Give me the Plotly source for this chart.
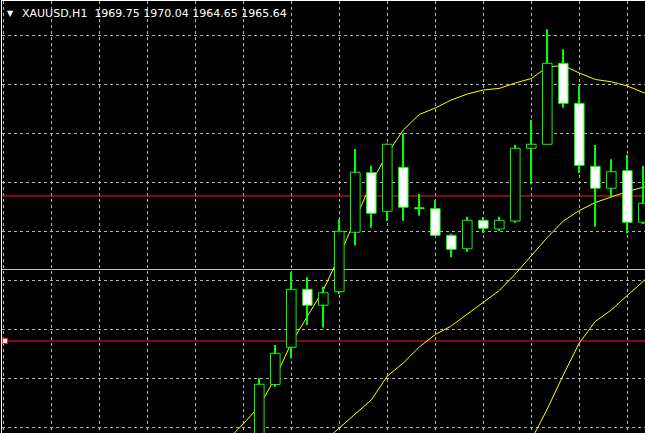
import plotly.graph_objects as go

# MT4 style XAUUSD H1 chart
symbol = "XAUUSD,H1"
last_ohlc = ["1969.75", "1970.04", "1964.65", "1965.64"]

bar_index = list(range(25))
opens = [1947.65, 1954.34, 1958.13, 1964.05, 1962.42, 1963.81, 1969.87, 1975.95, 1972.01, 1976.50,
         1972.37, 1972.28, 1969.56, 1968.19, 1971.09, 1970.20, 1971.02, 1978.44, 1978.85, 1987.11,
         1983.03, 1976.60, 1974.36, 1976.15, 1970.89]
highs = [1954.97, 1958.37, 1965.79, 1965.28, 1964.32, 1971.19, 1978.37, 1976.66, 1978.93, 1979.97,
         1973.78, 1973.13, 1969.69, 1971.46, 1971.43, 1971.46, 1978.78, 1981.33, 1990.58, 1988.54,
         1984.80, 1978.78, 1977.32, 1977.76, 1976.63]
lows = [1947.14, 1954.11, 1956.99, 1960.41, 1960.15, 1963.57, 1968.52, 1970.34, 1971.05, 1971.05,
        1971.56, 1969.49, 1967.32, 1967.89, 1969.80, 1970.00, 1970.85, 1974.77, 1978.83, 1982.58,
        1975.95, 1970.44, 1973.50, 1969.77, 1970.71]
closes = [1954.36, 1957.52, 1964.05, 1962.42, 1963.70, 1969.97, 1975.99, 1971.81, 1978.85, 1972.42,
          1972.27, 1969.56, 1968.13, 1971.09, 1970.28, 1971.09, 1978.44, 1978.85, 1987.11, 1983.03,
          1976.70, 1974.36, 1976.05, 1970.89, 1972.83]

ma_fast_index = list(range(-2, 26))
ma_fast = [1948.67, 1950.31, 1952.11, 1955.02, 1958.57, 1961.33, 1963.98, 1967.45, 1971.22, 1974.90,
           1977.89, 1980.31, 1981.89, 1982.55, 1983.37, 1983.98, 1984.39, 1984.55, 1985.10, 1985.56,
           1986.73, 1986.89, 1986.12, 1985.46, 1985.23, 1984.80, 1984.13, 1983.47]
ma_mid_index = list(range(4, 26))
ma_mid = [1948.47, 1949.90, 1951.33, 1952.76, 1955.20, 1956.53, 1958.16, 1959.44, 1960.31, 1961.53,
          1962.79, 1963.93, 1965.61, 1967.50, 1969.34, 1971.02, 1972.09, 1972.91, 1973.44, 1974.03,
          1974.47, 1974.90]
ma_slow_index = list(range(16, 26))
ma_slow = [1945.51, 1948.67, 1951.84, 1955.31, 1958.57, 1960.77, 1961.94, 1963.42, 1964.90, 1966.33]

red_levels = [1973.57, 1958.78]
bid_level = 1966.07

# view window (16 px per bar, 9.8 px per dollar)
x_lo = -(259.3 - 2) / 16
x_hi = x_lo + 643 / 16
y_hi = 1990 + 34 / 9.8
y_lo = 1990 - 398 / 9.8

fig = go.Figure()

# horizontal levels, drawn as full-width lines
span = [x_lo - 1, x_hi + 1]
for lvl in red_levels:
    fig.add_trace(go.Scatter(x=span, y=[lvl, lvl], mode="lines", line=dict(color="#ff1a1a", width=1),
                             hoverinfo="skip", showlegend=False))
fig.add_trace(go.Scatter(x=span, y=[bid_level, bid_level], mode="lines",
                         line=dict(color="#c0c0c8", width=1), hoverinfo="skip", showlegend=False))

for xs, ys in [(ma_fast_index, ma_fast), (ma_mid_index, ma_mid), (ma_slow_index, ma_slow)]:
    fig.add_trace(go.Scatter(x=xs, y=ys, mode="lines", line=dict(color="#ffff00", width=1),
                             hoverinfo="skip", showlegend=False))

# selected-object handle on the lower red line
fig.add_trace(go.Scatter(x=[x_lo + 3 / 16], y=[red_levels[1]], mode="markers",
                         marker=dict(symbol="square", size=5, color="white",
                                     line=dict(color="#ff1a1a", width=1)),
                         hoverinfo="skip", showlegend=False))

# wicks, then bodies, on an overlay axis so candles sit above the MAs
fig.add_trace(go.Bar(x=bar_index, base=lows, y=[h - l for h, l in zip(highs, lows)],
                     width=1 / 16, marker=dict(color="#00ff00", line=dict(width=0)),
                     xaxis="x2", yaxis="y2", hoverinfo="skip", showlegend=False))
fig.add_trace(go.Bar(x=bar_index, base=[min(o, c) for o, c in zip(opens, closes)],
                     y=[max(abs(c - o), 0.1) for o, c in zip(opens, closes)],
                     width=0.6,
                     marker=dict(color=["black" if c > o else "white" for o, c in zip(opens, closes)],
                                 line=dict(color="#00ff00", width=1)),
                     xaxis="x2", yaxis="y2", hoverinfo="skip", showlegend=False))

grid = dict(showgrid=True, gridcolor="#b4b4b4", gridwidth=1, griddash="3px,3px",
            zeroline=False, showticklabels=False, ticks="")
fig.update_layout(
    width=645, height=433,
    margin=dict(l=2, r=0, t=1, b=0),
    paper_bgcolor="black", plot_bgcolor="black",
    barmode="overlay", showlegend=False,
    xaxis=dict(range=[x_lo, x_hi], tick0=-1, dtick=3, side="top",
               showline=True, linecolor="white", linewidth=1, **grid),
    yaxis=dict(range=[y_lo, y_hi], tick0=1950, dtick=5,
               showline=True, linecolor="white", linewidth=1, **grid),
    xaxis2=dict(range=[x_lo, x_hi], overlaying="x", anchor="y2", visible=False),
    yaxis2=dict(range=[y_lo, y_hi], overlaying="y", anchor="x2", visible=False),
)

header = symbol + "\u00a0\u00a0" + " ".join(last_ohlc)
fig.add_annotation(text=header, xref="paper", yref="paper", x=0, y=1,
                   xanchor="left", yanchor="middle", xshift=18, yshift=-12.7, showarrow=False,
                   font=dict(family="DejaVu Sans", size=11, color="white"))
fig.add_annotation(text="\u25bc", xref="paper", yref="paper", x=0, y=1,
                   xanchor="center", yanchor="middle", xshift=8.8, yshift=-12.5, showarrow=False,
                   font=dict(family="DejaVu Sans", size=8, color="white"))

fig.write_html("out.html", config={"displayModeBar": False},
               post_script="document.body.style.margin='0';document.body.style.overflow='hidden';"
                           "document.body.style.background='black';")
